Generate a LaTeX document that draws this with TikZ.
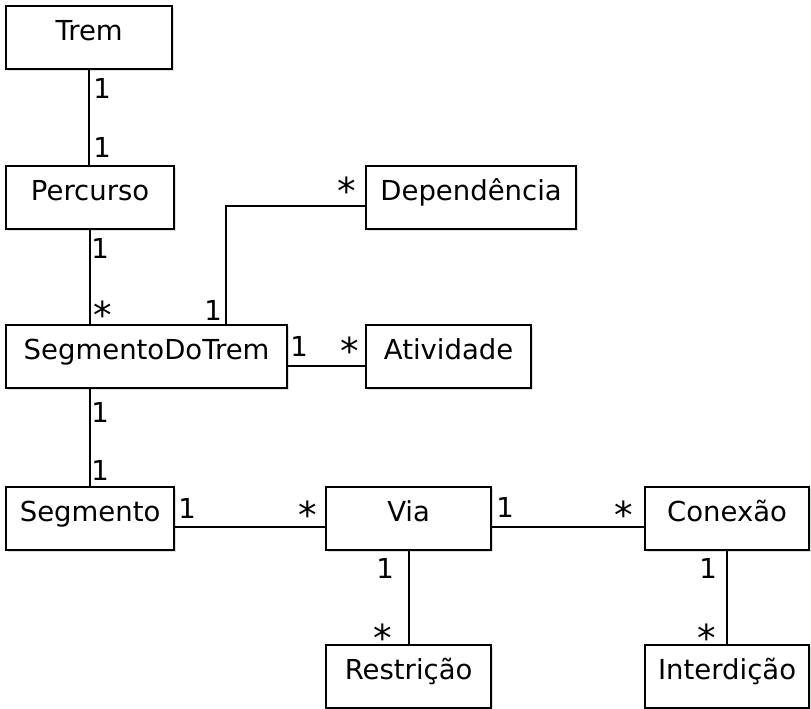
\documentclass[tikz,border=0pt]{standalone}
\usepackage{fontspec}
\setmainfont{DejaVu Sans}
\usetikzlibrary{shadows}

\begin{document}
\begin{tikzpicture}[x=1pt, y=-1pt, line width=2.2pt,
    every node/.style = {font=\fontsize{27.5}{33}\selectfont},
    cls/.style = {draw, fill=white, anchor=north west, inner sep=0pt,
      minimum height=63pt, text height=34pt, text depth=29pt,
      drop shadow={shadow xshift=2pt, shadow yshift=-2pt, opacity=0.25}},
    mult/.style = {anchor=base, inner sep=0pt}]
    \useasboundingbox (0,0) rectangle (811,709);

    % classes
    \node[cls, minimum width=166pt] (trem) at (5,5) {Trem};
    \node[cls, minimum width=168pt] (perc) at (5,165) {Percurso};
    \node[cls, minimum width=210pt] (dep) at (365,165) {Dependência};
    \node[cls, minimum width=281pt] (sdt) at (5,324) {SegmentoDoTrem};
    \node[cls, minimum width=165pt] (ativ) at (365,324) {Atividade};
    \node[cls, minimum width=168pt] (segm) at (5,486) {Segmento};
    \node[cls, minimum width=165pt] (via) at (325,486) {Via};
    \node[cls, minimum width=164pt] (con) at (644,486) {Conexão};
    \node[cls, minimum width=165pt] (restr) at (325,644) {Restrição};
    \node[cls, minimum width=164pt] (inter) at (644,644) {Interdição};

    % associations
    \draw (trem.south) -- (trem.south |- perc.north);
    \draw (perc.south) -- (perc.south |- sdt.north);
    \draw ([yshift=-8pt]dep.west) -| ([xshift=79.5pt]sdt.north);
    \draw ([yshift=-9pt]sdt.east) -- ([yshift=-9pt]sdt.east -| ativ.west);
    \draw (segm.north) -- (segm.north |- sdt.south);
    \draw ([yshift=-8pt]segm.east) -- ([yshift=-8pt]segm.east -| via.west);
    \draw ([yshift=-8pt]via.east) -- ([yshift=-8pt]via.east -| con.west);
    \draw (via.south) -- (via.south |- restr.north);
    \draw (con.south) -- (con.south |- inter.north);

    % multiplicities
    \node[mult] (m1) at (102,99) {1};
    \node[mult] (m2) at (102,157) {1};
    \node[mult] (m3) at (100,258) {1};
    \node[mult] (m4) at (103,328) {\scalebox{1.35}{*}};
    \node[mult] (m5) at (347,204) {\scalebox{1.35}{*}};
    \node[mult] (m6) at (213,320) {1};
    \node[mult] (m7) at (299,356) {1};
    \node[mult] (m8) at (350,364) {\scalebox{1.35}{*}};
    \node[mult] (m9) at (100,422) {1};
    \node[mult] (m10) at (100,480) {1};
    \node[mult] (m11) at (187,518) {1};
    \node[mult] (m12) at (308,528) {\scalebox{1.35}{*}};
    \node[mult] (m13) at (505,517) {1};
    \node[mult] (m14) at (624,528) {\scalebox{1.35}{*}};
    \node[mult] (m15) at (385,578) {1};
    \node[mult] (m16) at (383,651) {\scalebox{1.35}{*}};
    \node[mult] (m17) at (708,578) {1};
    \node[mult] (m18) at (707,651) {\scalebox{1.35}{*}};
\end{tikzpicture}
\end{document}
